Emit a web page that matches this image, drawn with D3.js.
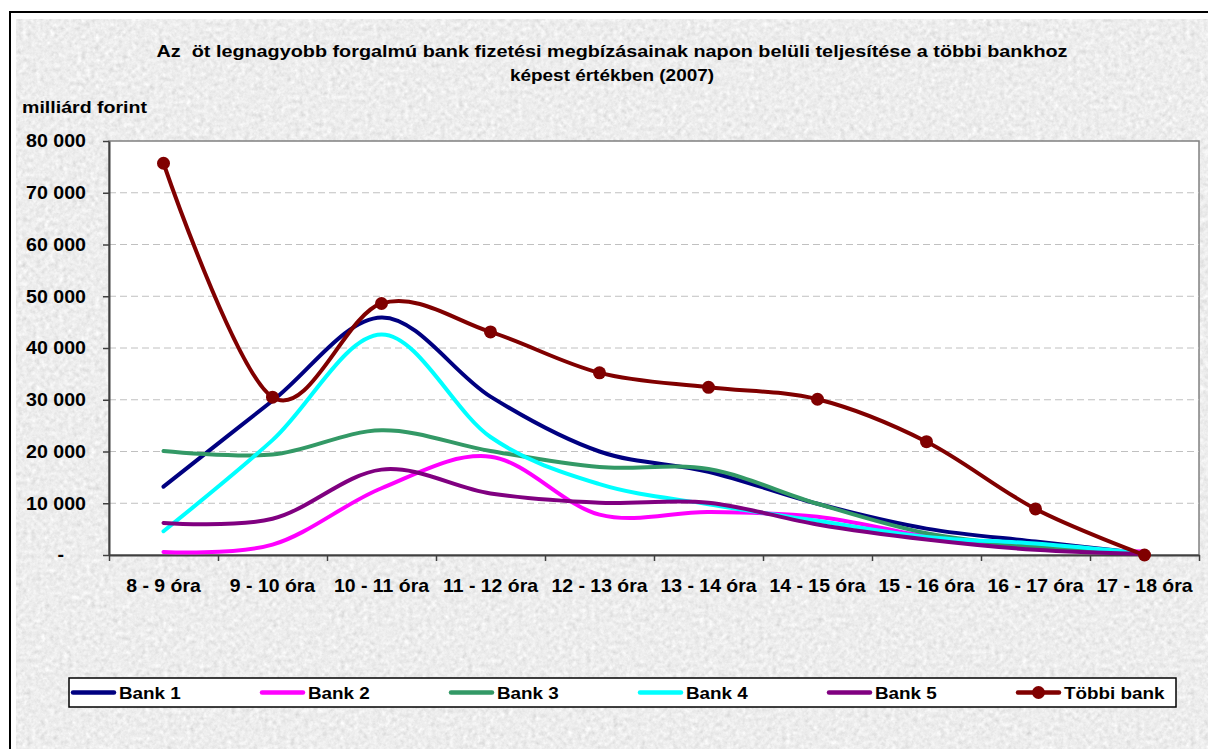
<!DOCTYPE html>
<html><head><meta charset="utf-8">
<script src="https://cdn.jsdelivr.net/npm/d3@7"></script>
<style>
body{margin:0;background:#fff}
svg{display:block}
text{font-family:"Liberation Sans",Arial,sans-serif;font-weight:bold;fill:#000;white-space:pre}
</style>
</head><body>
<svg id="chart" width="1208" height="749"></svg>
<script>
// ---------- data ----------
const categories = ["8 - 9 óra","9 - 10 óra","10 - 11 óra","11 - 12 óra","12 - 13 óra","13 - 14 óra","14 - 15 óra","15 - 16 óra","16 - 17 óra","17 - 18 óra"];
const yTicks = [0,10000,20000,30000,40000,50000,60000,70000,80000];
const seriesNames = ["Bank 1","Bank 2","Bank 3","Bank 4","Bank 5","Többi bank"];
const bank1 = [13200,29800,45900,30600,20000,16100,9900,5100,2600,300];
const bank2 = [600,2000,12900,19000,7800,8300,7400,3600,1300,700];
const bank3 = [20100,19400,24100,20100,17000,16600,9900,4200,1600,300];
const bank4 = [4600,22200,42600,22800,13700,9800,6600,3500,2200,300];
const bank5 = [6200,7000,16500,11900,10100,10100,5900,3000,1000,200];
const tobbi = [75700,30500,48600,43100,35200,32400,30100,21900,8900,0];
const colors = ["#000080","#ff00ff","#339966","#00ffff","#800080","#800000"];
const titleLines = ["Az  öt legnagyobb forgalmú bank fizetési megbízásainak napon belüli teljesítése a többi bankhoz","képest értékben (2007)"];
const yUnit = "milliárd forint";

const seriesValues = [bank1,bank2,bank3,bank4,bank5,tobbi];
const series = seriesNames.map((n,i)=>({name:n,color:colors[i],values:seriesValues[i],marker:i===5}));

// ---------- layout ----------
const svg = d3.select("#chart");
const plot = {left:109,right:1199,top:141,bottom:555};

function stretch(sel, s){
  sel.each(function(){
    const t = d3.select(this);
    const x = +t.attr("x")||0, y = +t.attr("y")||0;
    t.attr("x",0).attr("y",0).attr("transform",`translate(${x},${y}) scale(${s},1)`);
  });
}

// texture filter
const defs = svg.append("defs");
const f = defs.append("filter").attr("id","tex").attr("x",0).attr("y",0).attr("width","100%").attr("height","100%");
f.append("feTurbulence").attr("type","fractalNoise").attr("baseFrequency","0.22").attr("numOctaves",4).attr("seed",7).attr("result","n");
f.append("feColorMatrix").attr("in","n").attr("type","matrix")
  .attr("values","0.2 0.2 0.2 0 0.545  0.2 0.2 0.2 0 0.545  0.2 0.2 0.2 0 0.545  0 0 0 0 1");

// outer border and textured background
svg.append("rect").attr("x",10).attr("y",12).attr("width",1300).attr("height",900)
  .attr("fill","#fff").attr("stroke","#000").attr("stroke-width",2);
svg.append("rect").attr("x",16).attr("y",19).attr("width",1200).attr("height",740)
  .attr("fill","#d9d9d9");
svg.append("rect").attr("x",16).attr("y",19).attr("width",1200).attr("height",740)
  .attr("filter","url(#tex)");

// title
svg.append("text").attr("x",612).attr("y",57).attr("text-anchor","middle").attr("xml:space","preserve")
  .attr("font-size",16).attr("textLength",911).attr("lengthAdjust","spacingAndGlyphs").text(titleLines[0]);
svg.append("text").attr("x",612).attr("y",81).attr("text-anchor","middle")
  .attr("font-size",16).attr("textLength",204).attr("lengthAdjust","spacingAndGlyphs").text(titleLines[1]);
svg.append("text").attr("x",22).attr("y",113)
  .attr("font-size",16).attr("textLength",125).attr("lengthAdjust","spacingAndGlyphs").text(yUnit);

// scales
const x = d3.scaleBand().domain(categories).range([plot.left,plot.right]).paddingInner(0).paddingOuter(0);
const xc = c => x(c) + x.bandwidth()/2;
const xIdx = d3.scaleLinear().domain([0,categories.length]).range([plot.left,plot.right]);
const y = d3.scaleLinear().domain([0,80000]).range([plot.bottom,plot.top]);

// plot area
svg.append("rect").attr("x",plot.left).attr("y",plot.top)
  .attr("width",plot.right-plot.left).attr("height",plot.bottom-plot.top)
  .attr("fill","#fff").attr("stroke","#808080").attr("stroke-width",1.5);

// gridlines
svg.append("g").selectAll("line").data(yTicks.filter(v=>v>0&&v<80000)).join("line")
  .attr("x1",plot.left).attr("x2",plot.right).attr("y1",d=>y(d)).attr("y2",d=>y(d))
  .attr("stroke","#c0c0c0").attr("stroke-width",1).attr("stroke-dasharray","7,4");

// y axis
const fmt = v => v===0 ? "-" : d3.format(",")(v).replace(/,/g," ");
const yAxis = svg.append("g").attr("transform",`translate(${plot.left},0)`)
  .call(d3.axisLeft(y).tickValues(yTicks).tickFormat(fmt).tickSize(6).tickSizeOuter(0).tickPadding(17));
yAxis.select(".domain").attr("stroke","#404040").attr("stroke-width",2);
yAxis.selectAll(".tick line").attr("stroke","#404040").attr("stroke-width",1.5);
yAxis.selectAll("text").attr("font-size",18).attr("font-family",null).attr("fill","#000")
  .attr("x",d=> d===0 ? -45 : -23);
stretch(yAxis.selectAll("text"),1.09);

// x axis ticks at band boundaries
const xTickAxis = svg.append("g").attr("transform",`translate(0,${plot.bottom})`)
  .call(d3.axisBottom(xIdx).tickValues(d3.range(categories.length+1)).tickFormat("").tickSize(6).tickSizeOuter(0));
xTickAxis.select(".domain").attr("stroke","#404040").attr("stroke-width",2);
xTickAxis.selectAll(".tick line").attr("stroke","#404040").attr("stroke-width",1.5);
// x axis labels
const xLab = svg.append("g").attr("transform",`translate(0,${plot.bottom})`)
  .call(d3.axisBottom(x).tickSize(0).tickPadding(0));
xLab.select(".domain").remove();
xLab.selectAll("text").attr("font-size",18).attr("font-family",null).attr("fill","#000").attr("y",37).attr("dy",0);
stretch(xLab.selectAll("text"),1.08);

// lines
const line = d3.line().x((d,i)=>xc(categories[i])).y(d=>y(d)).curve(d3.curveCardinal.tension(0));
const lg = svg.append("g");
series.forEach(s=>{
  lg.append("path").attr("d",line(s.values)).attr("fill","none")
    .attr("stroke",s.color).attr("stroke-width",4).attr("stroke-linejoin","round").attr("stroke-linecap","round");
  if(s.marker){
    lg.append("g").selectAll("circle").data(s.values).join("circle")
      .attr("cx",(d,i)=>xc(categories[i])).attr("cy",d=>y(d)).attr("r",6.5).attr("fill",s.color);
  }
});

// legend
const legend = {x:69,y:678,w:1107,h:29,first:73,step:189,lineLen:41,textOff:46};
svg.append("rect").attr("x",legend.x).attr("y",legend.y).attr("width",legend.w).attr("height",legend.h)
  .attr("fill","#fff").attr("stroke","#000").attr("stroke-width",1.5);
series.forEach((s,i)=>{
  const lx = legend.first + i*legend.step, ly = legend.y + 14.5;
  svg.append("line").attr("x1",lx).attr("x2",lx+legend.lineLen).attr("y1",ly).attr("y2",ly)
    .attr("stroke",s.color).attr("stroke-width",4.5).attr("stroke-linecap","round");
  if(s.marker) svg.append("circle").attr("cx",lx+legend.lineLen/2).attr("cy",ly).attr("r",6.5).attr("fill",s.color);
  const t = svg.append("text").attr("x",lx+legend.textOff).attr("y",ly+6).attr("font-size",17).text(s.name);
  stretch(t,1.11);
});
</script>
</body></html>
